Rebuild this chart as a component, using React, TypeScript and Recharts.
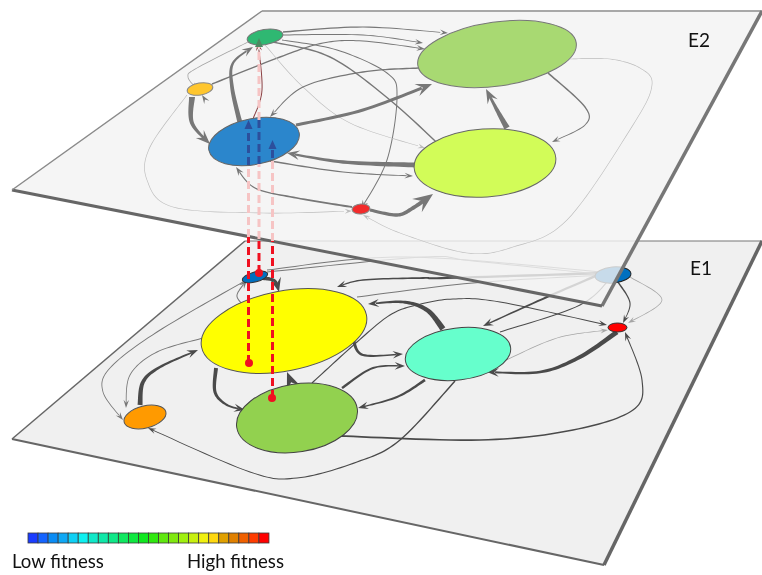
import { ScatterChart, Scatter, XAxis, YAxis } from "recharts";

type Pt = [number, number];
type Route = { pts: Pt[]; w: [number, number]; tone: "dark" | "mid" | "soft" | "pale" | "wine" };

const WIDTH = 762;
const HEIGHT = 575;

// plane corners, clockwise from the top left
const planeE1: Pt[] = [[245, 241], [762, 241], [604, 565], [12, 439]];
const planeE2: Pt[] = [[262, 11], [762, 11], [602, 306], [12, 190]];

// states: name, x, y
const nodesE1: [string, number, number][] = [
  ["e1Blue", 255, 277],
  ["e1Yellow", 284, 331],
  ["e1Orange", 145, 417],
  ["e1Green", 297, 418],
  ["e1Cyan", 458, 354],
  ["e1Red", 617.5, 327.5],
  ["e1Peak", 613, 275],
];
const nodesE2: [string, number, number][] = [
  ["e2Green", 265, 37],
  ["e2Amber", 200, 89],
  ["e2Blue", 254, 141.5],
  ["e2Red", 361, 209],
  ["e2Leaf", 497, 54],
  ["e2Lime", 485, 163],
];

// transitions in E1
const edgesE1: Route[] = [
  { pts: [[262, 278], [275, 281], [279, 292]], w: [4, 2.5], tone: "dark" },
  { pts: [[243, 305], [237, 295], [247, 280]], w: [1, 1], tone: "mid" },
  { pts: [[243, 282], [157, 332], [110, 368], [103, 392], [123, 420]], w: [1, 0.8], tone: "mid" },
  { pts: [[203, 338], [157, 352], [130, 375], [126, 408]], w: [1, 0.8], tone: "mid" },
  { pts: [[140, 405], [143, 382], [160, 367], [198, 350]], w: [5, 1.6], tone: "dark" },
  { pts: [[455, 381], [400, 440], [357, 462], [297, 478], [250, 472], [148, 428]], w: [1.5, 0.8], tone: "dark" },
  { pts: [[216, 368], [215, 392], [227, 405], [245, 410]], w: [4, 1.6], tone: "dark" },
  { pts: [[293, 387], [287, 372]], w: [4, 3.5], tone: "dark" },
  { pts: [[312, 383], [357, 342], [390, 315], [417, 305], [453, 299], [500, 302], [607, 325]], w: [1.2, 0.9], tone: "dark" },
  { pts: [[357, 297], [473, 283], [605, 275]], w: [1, 1], tone: "mid" },
  { pts: [[605, 273], [447, 278], [423, 278], [363, 280], [337, 287]], w: [2.5, 1.2], tone: "dark" },
  { pts: [[443, 329], [427, 310], [403, 302], [368, 304]], w: [6, 1.6], tone: "dark" },
  { pts: [[353, 339], [363, 355], [403, 354]], w: [3.5, 1.4], tone: "dark" },
  { pts: [[342, 388], [373, 368], [405, 366]], w: [2.5, 1.4], tone: "dark" },
  { pts: [[425, 380], [397, 397], [358, 408]], w: [2.8, 1.4], tone: "dark" },
  { pts: [[340, 436], [480, 440], [573, 430], [633, 410], [642, 380], [625, 332]], w: [1.8, 1], tone: "dark" },
  { pts: [[617, 332], [580, 357], [540, 372], [487, 372]], w: [5, 1.8], tone: "dark" },
  { pts: [[502, 362], [557, 338], [608, 330]], w: [0.8, 0.7], tone: "soft" },
  { pts: [[500, 332], [580, 305], [613, 275]], w: [1, 1], tone: "dark" },
  { pts: [[605, 272], [547, 297], [483, 326]], w: [2.6, 1.4], tone: "dark" },
  { pts: [[618, 282], [630, 303], [623, 323]], w: [1.6, 0.8], tone: "dark" },
  { pts: [[630, 277], [662, 300], [628, 323]], w: [0.8, 0.7], tone: "soft" },
  { pts: [[267, 272], [423, 257], [473, 261], [607, 275]], w: [1, 1], tone: "mid" },
  { pts: [[267, 270], [407, 257], [612, 273]], w: [1, 1], tone: "mid" },
];

// transitions in E2
const edgesE2: Route[] = [
  { pts: [[283, 32], [363, 27], [448, 33]], w: [1.6, 0.8], tone: "mid" },
  { pts: [[282, 35], [363, 35], [423, 43]], w: [1, 0.8], tone: "mid" },
  { pts: [[212, 84], [280, 57], [323, 43], [363, 41], [425, 49]], w: [1.5, 0.9], tone: "mid" },
  { pts: [[273, 42], [330, 57], [390, 100], [450, 155]], w: [1.4, 1.4], tone: "mid" },
  { pts: [[282, 40], [337, 50], [387, 73], [397, 97], [387, 160], [361, 209]], w: [1, 1], tone: "mid" },
  { pts: [[265, 45], [303, 87], [350, 123], [425, 148]], w: [0.7, 0.6], tone: "pale" },
  { pts: [[248, 42], [197, 68], [188, 77], [198, 90]], w: [0.8, 0.8], tone: "soft" },
  { pts: [[240, 123], [232, 87], [233, 63], [253, 47]], w: [5, 1.6], tone: "mid" },
  { pts: [[253, 119], [262, 90], [258, 42]], w: [1, 1], tone: "wine" },
  { pts: [[192, 97], [192, 123], [210, 144]], w: [6, 2.5], tone: "mid" },
  { pts: [[224, 129], [202, 95]], w: [1.5, 1], tone: "mid" },
  { pts: [[418, 68], [363, 72], [303, 87], [270, 117]], w: [1.5, 0.9], tone: "mid" },
  { pts: [[296, 125], [363, 110], [432, 84]], w: [3, 3], tone: "mid" },
  { pts: [[415, 165], [343, 162], [287, 153]], w: [5, 2], tone: "mid" },
  { pts: [[270, 161], [343, 172], [413, 176]], w: [1.5, 0.9], tone: "mid" },
  { pts: [[352, 207], [297, 198], [255, 188], [236, 167]], w: [2, 1], tone: "mid" },
  { pts: [[370, 210], [397, 215], [413, 208], [433, 194]], w: [3, 4], tone: "mid" },
  { pts: [[507, 128], [497, 110], [486, 89]], w: [6, 2.5], tone: "mid" },
  { pts: [[548, 73], [585, 107], [585, 125], [552, 142]], w: [1.6, 0.8], tone: "mid" },
  { pts: [[570, 59], [610, 59], [640, 68], [652, 85], [633, 125], [567, 220], [513, 247], [467, 253], [400, 233], [363, 215]], w: [0.7, 0.6], tone: "pale" },
  { pts: [[187, 95], [150, 147], [147, 180], [173, 207], [263, 213], [352, 211]], w: [0.7, 0.6], tone: "pale" },
];

// the three genotypes carried from E1 up to E2
const liftSolid: Pt[][] = [
  [[248.5, 363], [248.5, 237]],
  [[259, 273], [259, 239]],
  [[272.5, 398], [272.5, 241]],
];
const liftFaded: Pt[][] = [
  [[248.5, 237], [248.5, 165]],
  [[259, 239], [259, 164]],
  [[259, 120], [259, 46]],
  [[272.5, 241], [272.5, 158]],
];
const liftInside: Pt[][] = [
  [[248.5, 165], [248.5, 128]],
  [[259, 164], [259, 120]],
  [[272.5, 158], [272.5, 148]],
];
const liftStarts: Pt[] = [[249, 363], [259, 273], [272, 398]];

const fitnessColors = [
  "#1a3cff", "#1464ff", "#0a8cf5", "#0fa8f5", "#0fd0f5", "#0ff0f0", "#10e8c8", "#10e8a8",
  "#10e888", "#10e860", "#10e840", "#10e820", "#30e810", "#60e810", "#80e810", "#a0f010",
  "#c8f010", "#f0f010", "#ffd810", "#e0a000", "#e08000", "#f06000", "#ff3c00", "#ff0000",
];
const planeLabels: [string, number, number][] = [["E2", 688, 47], ["E1", 690, 275]];
const legendLabels: [string, number, number][] = [["Low fitness", 12, 568], ["High fitness", 187, 568]];

const NODE_LOOK: Record<string, { rx: number; ry: number; rot: number; fill: string; stroke: string }> = {
  e1Blue: { rx: 13, ry: 5, rot: -15, fill: "#0070c0", stroke: "#333" },
  e1Yellow: { rx: 84, ry: 40, rot: -11, fill: "#ffff00", stroke: "#555" },
  e1Orange: { rx: 21.5, ry: 11, rot: -14, fill: "#ff9a00", stroke: "#555" },
  e1Green: { rx: 61, ry: 34, rot: -9, fill: "#92d14f", stroke: "#444" },
  e1Cyan: { rx: 53, ry: 26, rot: -7, fill: "#66ffcc", stroke: "#444" },
  e1Red: { rx: 9.5, ry: 4.5, rot: 0, fill: "#ff0000", stroke: "#333" },
  e1Peak: { rx: 18, ry: 8, rot: -5, fill: "#0070c0", stroke: "#222" },
  e2Green: { rx: 18, ry: 7.5, rot: -9, fill: "#2fb872", stroke: "#777" },
  e2Amber: { rx: 13, ry: 6, rot: -10, fill: "#ffc62e", stroke: "#888" },
  e2Blue: { rx: 46, ry: 23, rot: -11, fill: "#2b86cc", stroke: "#666" },
  e2Red: { rx: 9, ry: 5, rot: -5, fill: "#f22b2b", stroke: "#888" },
  e2Leaf: { rx: 80, ry: 32, rot: -8, fill: "#a8d972", stroke: "#777" },
  e2Lime: { rx: 71, ry: 34, rot: -4, fill: "#d2fc58", stroke: "#666" },
};

const TONES = { dark: "#4a4a4a", mid: "#777777", soft: "#a5a5a5", pale: "#bdbdbd", wine: "#8a3f42" };

const toRows = (pts: Pt[]) => pts.map(([x, y]) => ({ x, y }));
const noDot = () => <g />;

// catmull-rom through the scaled points
function sample(points: { x: number; y: number }[]) {
  if (points.length < 3) {
    return [points[0], points[points.length - 1]];
  }
  const out: { x: number; y: number }[] = [];
  for (let i = 0; i < points.length - 1; i++) {
    const p0 = points[Math.max(i - 1, 0)];
    const p1 = points[i];
    const p2 = points[i + 1];
    const p3 = points[Math.min(i + 2, points.length - 1)];
    for (let s = 0; s < 14; s++) {
      const t = s / 14;
      const a = (v0: number, v1: number, v2: number, v3: number) =>
        0.5 * (2 * v1 + (v2 - v0) * t + (2 * v0 - 5 * v1 + 4 * v2 - v3) * t * t + (3 * v1 - v0 - 3 * v2 + v3) * t * t * t);
      out.push({ x: a(p0.x, p1.x, p2.x, p3.x), y: a(p0.y, p1.y, p2.y, p3.y) });
    }
  }
  out.push(points[points.length - 1]);
  return out;
}

function Arrow({ points, w, color }: { points: { x: number; y: number }[]; w: [number, number]; color: string }) {
  const line = sample(points);
  const tip = line[line.length - 1];
  const len = 4.5 + w[1] * 3.2;
  const half = 1.4 + w[1] * 1.7;

  // walk back from the tip to where the head starts
  let k = line.length - 1;
  let walked = 0;
  while (k > 0 && walked < len * 0.6) {
    walked += Math.hypot(line[k].x - line[k - 1].x, line[k].y - line[k - 1].y);
    k--;
  }
  const body = line.slice(0, k + 1);
  if (body.length < 2) body.unshift(line[0]);
  const neck = body[body.length - 1];
  const dl = Math.hypot(tip.x - neck.x, tip.y - neck.y) || 1;
  const dx = (tip.x - neck.x) / dl;
  const dy = (tip.y - neck.y) / dl;

  const left: string[] = [];
  const right: string[] = [];
  body.forEach((p, i) => {
    const a = body[Math.max(i - 1, 0)];
    const b = body[Math.min(i + 1, body.length - 1)];
    const d = Math.hypot(b.x - a.x, b.y - a.y) || 1;
    const u = i / (body.length - 1);
    const h = (w[0] + (w[1] - w[0]) * u) / 2;
    left.push(`${p.x + ((b.y - a.y) / d) * h},${p.y - ((b.x - a.x) / d) * h}`);
    right.unshift(`${p.x - ((b.y - a.y) / d) * h},${p.y + ((b.x - a.x) / d) * h}`);
  });

  const backX = tip.x - dx * len * 1.15;
  const backY = tip.y - dy * len * 1.15;
  const head = [
    `${tip.x},${tip.y}`,
    `${backX - dy * half},${backY + dx * half}`,
    `${tip.x - dx * len * 0.7},${tip.y - dy * len * 0.7}`,
    `${backX + dy * half},${backY - dx * half}`,
  ].join(" ");

  return (
    <g>
      <polygon points={[...left, ...right].join(" ")} fill={color} />
      <polygon points={head} fill={color} />
    </g>
  );
}

function planeLine(sides: { color: string; width: number }[], fill: string, opacity: number) {
  return (p: any) => {
    const pts: { x: number; y: number }[] = p.points;
    return (
      <g>
        <polygon points={pts.map((c) => `${c.x},${c.y}`).join(" ")} fill={fill} fillOpacity={opacity} />
        {pts.map((c, i) => {
          const n = pts[(i + 1) % pts.length];
          return <line key={i} x1={c.x} y1={c.y} x2={n.x} y2={n.y} stroke={sides[i].color} strokeWidth={sides[i].width} />;
        })}
      </g>
    );
  };
}

const nodeShape = (p: any) => {
  const look = NODE_LOOK[p.payload.name];
  return (
    <ellipse
      cx={p.cx}
      cy={p.cy}
      rx={look.rx}
      ry={look.ry}
      fill={look.fill}
      stroke={look.stroke}
      strokeWidth={1}
      transform={`rotate(${look.rot} ${p.cx} ${p.cy})`}
    />
  );
};

const textShape = (size: number) => (p: any) => (
  <text x={p.cx} y={p.cy} fontFamily="Lato, sans-serif" fontSize={size} fill="#111">
    {p.payload.label}
  </text>
);

const edgeSeries = (edges: Route[], prefix: string) =>
  edges.map((e, i) => (
    <Scatter
      key={prefix + i}
      data={toRows(e.pts)}
      shape={noDot}
      isAnimationActive={false}
      line={(p: any) => <Arrow points={p.points} w={e.w} color={TONES[e.tone]} />}
    />
  ));

const dashSeries = (paths: Pt[][], prefix: string, color: string) =>
  paths.map((path, i) => (
    <Scatter
      key={prefix + i}
      data={toRows(path)}
      shape={noDot}
      isAnimationActive={false}
      line={{ stroke: color, strokeWidth: 3, strokeDasharray: "8 4" }}
    />
  ));

const liftHeads = (paths: Pt[][], prefix: string, color: string) =>
  paths.map((path, i) => (
    <Scatter
      key={prefix + i}
      data={toRows(path.map(([x, y]) => [x, y - 8] as Pt))}
      shape={noDot}
      isAnimationActive={false}
      line={(p: any) => {
        const t = p.points[1];
        return <polygon points={`${t.x},${t.y} ${t.x - 4},${t.y + 9} ${t.x + 4},${t.y + 9}`} fill={color} />;
      }}
    />
  ));

export default function App() {
  return (
    <div style={{ position: "absolute", left: 0, top: 0, width: WIDTH, height: HEIGHT, filter: "blur(0.35px)" }}>
      <ScatterChart width={WIDTH} height={HEIGHT} margin={{ top: 0, right: 0, bottom: 0, left: 0 }}>
        <XAxis type="number" dataKey="x" domain={[0, WIDTH]} hide allowDataOverflow />
        <YAxis type="number" dataKey="y" domain={[0, HEIGHT]} reversed hide allowDataOverflow />

        <Scatter
          data={toRows(planeE1)}
          shape={noDot}
          isAnimationActive={false}
          line={planeLine(
            [
              { color: "#777", width: 1.2 },
              { color: "#666", width: 3.5 },
              { color: "#666", width: 2 },
              { color: "#666", width: 1.5 },
            ],
            "#f0f0f0",
            1
          )}
        />
        {edgeSeries(edgesE1, "e1-")}
        <Scatter
          data={nodesE1.map(([name, x, y]) => ({ name, x, y }))}
          shape={nodeShape}
          isAnimationActive={false}
        />

        <Scatter
          data={toRows(planeE2)}
          shape={noDot}
          isAnimationActive={false}
          line={planeLine(
            [
              { color: "#a8a8a8", width: 2 },
              { color: "#777", width: 3.5 },
              { color: "#666", width: 3 },
              { color: "#8a8a8a", width: 1.5 },
            ],
            "#f3f3f3",
            0.82
          )}
        />
        {edgeSeries(edgesE2, "e2-")}
        <Scatter
          data={nodesE2.map(([name, x, y]) => ({ name, x, y }))}
          shape={nodeShape}
          isAnimationActive={false}
        />

        {dashSeries(liftFaded, "faded-", "#f6c4c4")}
        {dashSeries(liftInside, "inside-", "#2c4f9c")}
        {dashSeries(liftSolid, "solid-", "#f01020")}
        {liftHeads([liftInside[0], liftInside[2]], "head-", "#2c4f9c")}
        {liftHeads([liftFaded[2]], "headTop-", "#4d8a62")}
        <Scatter
          data={toRows(liftStarts)}
          isAnimationActive={false}
          shape={(p: any) => <circle cx={p.cx} cy={p.cy} r={4} fill="#f01020" />}
        />

        <Scatter
          data={fitnessColors.map((color, i) => ({ color, x: 33 + i * 10.04, y: 538 }))}
          isAnimationActive={false}
          shape={(p: any) => (
            <rect x={p.cx - 5} y={p.cy - 5} width={10.04} height={10} fill={p.payload.color} stroke="#3a3a3a" strokeWidth={0.8} />
          )}
        />
        <Scatter
          data={planeLabels.map(([label, x, y]) => ({ label, x, y }))}
          isAnimationActive={false}
          shape={textShape(19)}
        />
        <Scatter
          data={legendLabels.map(([label, x, y]) => ({ label, x, y }))}
          isAnimationActive={false}
          shape={textShape(18.6)}
        />
      </ScatterChart>
    </div>
  );
}
